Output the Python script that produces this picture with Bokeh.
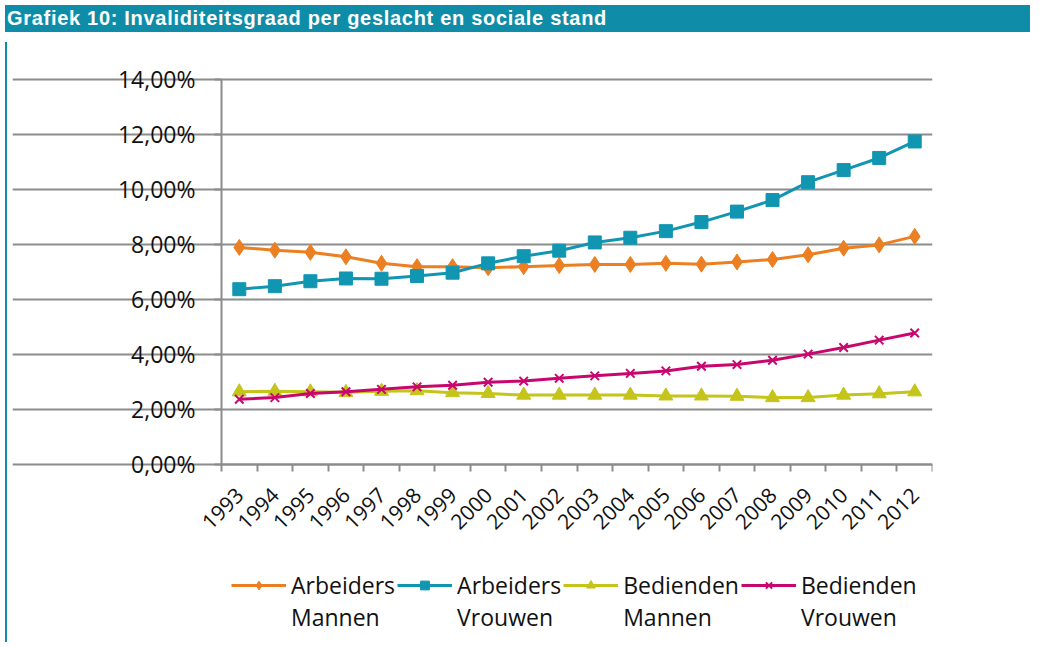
import math
import numpy as np
from bokeh.plotting import figure
from bokeh.models import Legend, LegendItem, FixedTicker, Range1d, Div
from bokeh.layouts import column, row
from bokeh.embed import file_html
from bokeh.resources import INLINE

title = "Grafiek 10: Invaliditeitsgraad per geslacht en sociale stand"
years = [str(y) for y in range(1993, 2013)]
arbeiders_mannen = [7.88, 7.78, 7.70, 7.54, 7.30, 7.18, 7.18, 7.14, 7.18, 7.22,
                    7.26, 7.26, 7.30, 7.27, 7.35, 7.44, 7.61, 7.85, 7.97, 8.28]
arbeiders_vrouwen = [6.36, 6.47, 6.65, 6.75, 6.74, 6.84, 6.96, 7.30, 7.56, 7.76,
                     8.06, 8.23, 8.47, 8.80, 9.18, 9.60, 10.25, 10.69, 11.13, 11.73]
bedienden_mannen = [2.63, 2.65, 2.63, 2.61, 2.65, 2.67, 2.60, 2.57, 2.51, 2.51,
                    2.51, 2.51, 2.48, 2.48, 2.47, 2.42, 2.42, 2.51, 2.56, 2.63]
bedienden_vrouwen = [2.36, 2.42, 2.57, 2.63, 2.72, 2.81, 2.87, 2.98, 3.02, 3.12,
                     3.21, 3.30, 3.39, 3.56, 3.62, 3.78, 4.00, 4.24, 4.51, 4.77]
series_first = ["Arbeiders", "Arbeiders", "Bedienden", "Bedienden"]
series_second = ["Mannen", "Vrouwen", "Mannen", "Vrouwen"]
y_ticks = [0, 2, 4, 6, 8, 10, 12, 14]
y_tick_labels = ["0,00%", "2,00%", "4,00%", "6,00%", "8,00%", "10,00%", "12,00%", "14,00%"]

FONT = "Open Sans"
GRID = "#8C8C8C"
TEAL = "#0F8DA8"
TXT = "#111111"

n = len(years)
x = np.arange(n) + 0.5

# The frame covers the whole canvas, so the rotated year labels and the legend
# (which are drawn inside it) are never clipped; the axes sit at x=0 / y=0.
p = figure(frame_width=920, frame_height=575, output_backend="svg", toolbar_location=None,
           x_range=Range1d(-5.88, n), y_range=Range1d(-6.3, 14.6),
           min_border_left=0, min_border_right=103, min_border_top=25, min_border_bottom=0)
p.outline_line_color = None
p.background_fill_color = "white"
p.border_fill_color = "white"
p.xgrid.visible = False
p.ygrid.grid_line_color = GRID
p.ygrid.grid_line_width = 2
p.ygrid.bounds = (0, n)

p.yaxis.fixed_location = 0
p.yaxis.ticker = FixedTicker(ticks=y_ticks)
p.yaxis.bounds = (y_ticks[0], y_ticks[-1])
p.yaxis.major_label_overrides = {t: l for t, l in zip(y_ticks, y_tick_labels)}
p.yaxis.axis_line_color = GRID
p.yaxis.axis_line_width = 2
p.yaxis.major_tick_line_color = GRID
p.yaxis.major_tick_line_width = 2
p.yaxis.major_tick_out = 7
p.yaxis.major_tick_in = 0
p.yaxis.minor_tick_line_color = None
p.yaxis.major_label_text_font = FONT
p.yaxis.major_label_text_font_size = "23px"
p.yaxis.major_label_text_color = TXT
p.yaxis.major_label_standoff = 19

p.xaxis.fixed_location = 0
p.xaxis.bounds = (0, n)
p.xaxis.ticker = FixedTicker(ticks=list(x), minor_ticks=list(range(n + 1)))
p.xaxis.major_label_overrides = {float(xx): yy for xx, yy in zip(x, years)}
p.xaxis.axis_line_color = GRID
p.xaxis.axis_line_width = 2
p.xaxis.major_tick_line_color = None
p.xaxis.minor_tick_line_color = GRID
p.xaxis.minor_tick_line_width = 2
p.xaxis.minor_tick_out = 7
p.xaxis.minor_tick_in = 0
p.xaxis.major_label_orientation = math.pi / 4
p.xaxis.major_label_text_font = FONT
p.xaxis.major_label_text_font_size = "21px"
p.xaxis.major_label_text_color = TXT
p.xaxis.major_label_standoff = 20

specs = [
    (arbeiders_mannen, "#EB7F22", "diamond", 16),
    (arbeiders_vrouwen, "#1196B2", "square", 13),
    (bedienden_mannen, "#C4C41A", "triangle", 14),
    (bedienden_vrouwen, "#C8076E", "x", 12),
]
items = []
for (vals, col, mk, sz), l1, l2 in zip(specs, series_first, series_second):
    ln = p.line(x, vals, line_color=col, line_width=3)
    if mk == "x":
        sc = p.scatter(x, vals, marker=mk, size=sz, line_color=col, line_width=2)
    else:
        sc = p.scatter(x, vals, marker=mk, size=sz, fill_color=col, line_color=col)
    # leading blank line keeps the legend glyph level with the first text line
    items.append(LegendItem(label=" \n" + l1 + "\n" + l2, renderers=[ln, sc]))

legend = Legend(items=items, orientation="horizontal", location=(219, 4),
                glyph_width=55, glyph_height=22, label_standoff=5, spacing=2,
                padding=0, margin=0, border_line_color=None, background_fill_alpha=0,
                label_text_font=FONT, label_text_font_size="23px", label_text_color=TXT,
                label_text_line_height=1.43)
p.add_layout(legend)

header = Div(text=title, width=1025, height=27,
             styles={"background-color": TEAL, "color": "white",
                     "font-family": "Liberation Sans, Arial, sans-serif",
                     "font-weight": "bold", "font-size": "20px", "letter-spacing": "0.7px",
                     "padding-left": "2px", "line-height": "27px",
                     "box-sizing": "border-box", "white-space": "nowrap"})
side = Div(text="", width=2, height=600, styles={"background-color": TEAL})
layout = column(header, row(side, p, spacing=0), spacing=0)

open("out.html", "w").write(file_html(layout, INLINE))
